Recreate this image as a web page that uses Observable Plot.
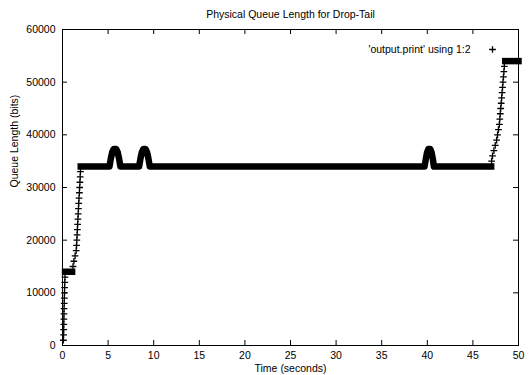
<!DOCTYPE html>
<html><head><meta charset="utf-8">
<script src="https://cdn.jsdelivr.net/npm/d3@7"></script>
<script src="https://cdn.jsdelivr.net/npm/@observablehq/plot@0.6"></script>
<style>body{margin:0;background:#fff}svg{display:block}</style>
</head><body><div id="chart"></div>
<script>
// ---- data ----
const titleText = "Physical Queue Length for Drop-Tail";
const xLabelText = "Time (seconds)";
const yLabelText = "Queue Length (bits)";
const legendText = "'output.print' using 1:2";
const xTicks = [0, 5, 10, 15, 20, 25, 30, 35, 40, 45, 50];
const yTicks = [0, 10000, 20000, 30000, 40000, 50000, 60000];

// sparse samples (individually visible crosses on the rising parts)
const riseTime = [
  0.10, 0.12, 0.13, 0.14, 0.15, 0.16, 0.17, 0.19, 0.20, 0.22, 0.23, 0.25, 0.27,
  1.15, 1.25, 1.38, 1.50, 1.54, 1.57, 1.60, 1.63, 1.66, 1.69, 1.72, 1.75, 1.78, 1.81, 1.85, 1.88, 1.91, 1.94, 1.97,
  47.05, 47.15, 47.30, 47.45, 47.60, 47.70, 47.80, 47.90, 47.95, 48.00, 48.05, 48.10, 48.15, 48.20, 48.25, 48.30, 48.35, 48.40, 48.45
];
const riseQueue = [
  1000, 2000, 3000, 4000, 5000, 6000, 7000, 8000, 9000, 10000, 11000, 12000, 13000,
  15000, 16000, 17000, 18000, 19000, 20000, 21000, 22000, 23000, 24000, 25000, 26000, 27000, 28000, 29000, 30000, 31000, 32000, 33000,
  35000, 36000, 37000, 38000, 39000, 40000, 41000, 42000, 43000, 44000, 45000, 46000, 47000, 48000, 49000, 50000, 51000, 52000, 53000
];

// dense runs (crosses so close they merge into a solid band)
const bandRun = [0, 0,
  1, 1, 1, 1, 1, 1, 1, 1, 1, 1,
  1, 1, 1, 1, 1, 1, 1, 1,
  1, 1, 1, 1, 1, 1, 1, 1,
  2, 2];
const bandTime = [0.28, 1.05,
  2.00, 5.15, 5.30, 5.45, 5.62, 5.88, 6.05, 6.20, 6.35, 8.40,
  8.55, 8.70, 8.87, 9.10, 9.27, 9.42, 9.57, 39.70,
  39.85, 39.98, 40.12, 40.32, 40.46, 40.60, 40.72, 47.00,
  48.55, 50.00];
const bandQueue = [14000, 14000,
  34000, 34000, 35500, 36700, 37300, 37300, 36700, 35500, 34000, 34000,
  35500, 36700, 37300, 37300, 36700, 35500, 34000, 34000,
  35500, 36700, 37300, 37300, 36700, 35500, 34000, 34000,
  54000, 54000];

const rise = riseTime.map((t, i) => ({t, q: riseQueue[i]}));
const band = bandTime.map((t, i) => ({t, q: bandQueue[i], run: bandRun[i]}));

const plot = Plot.plot({
  width: 531, height: 375,
  marginLeft: 62, marginRight: 13, marginTop: 29, marginBottom: 30,
  style: {fontFamily: "'Liberation Sans', Arial, sans-serif", fontSize: "10.5px", color: "#000", background: "#fff"},
  x: {domain: [0, 50], ticks: xTicks, tickSize: 0, tickPadding: 6, tickFormat: d => String(d), label: null},
  y: {domain: [0, 60000], ticks: yTicks, tickSize: 0, tickPadding: 7, tickFormat: d => String(d), label: null},
  marks: [
    Plot.line(band, {x: "t", y: "q", z: "run", stroke: "#000", strokeWidth: 6.5, strokeLinecap: "square", strokeLinejoin: "round"}),
    Plot.dot(rise, {x: "t", y: "q", symbol: "plus", r: 2.3, stroke: "#000", strokeWidth: 1.3}),
    Plot.tickX(xTicks, {x: d => d, insetTop: 311, stroke: "#000"}),
    Plot.tickX(xTicks, {x: d => d, insetBottom: 311, stroke: "#000"}),
    Plot.tickY(yTicks, {y: d => d, insetRight: 451, stroke: "#000"}),
    Plot.tickY(yTicks, {y: d => d, insetLeft: 451, stroke: "#000"}),
    Plot.frame({stroke: "#000"}),
    Plot.text([titleText], {text: d => d, frameAnchor: "top", lineAnchor: "middle", dy: -15, fill: "#000"}),
    Plot.text([xLabelText], {text: d => d, frameAnchor: "bottom", lineAnchor: "middle", dy: 23, fill: "#000"}),
    Plot.text([yLabelText], {text: d => d, frameAnchor: "left", dx: -48, rotate: -90, fill: "#000"}),
    Plot.text([legendText], {text: d => d, frameAnchor: "top-right", lineAnchor: "middle", dx: -48, dy: 20, textAnchor: "end", fill: "#000"}),
    Plot.dot([legendText], {frameAnchor: "top-right", dx: -26, dy: 20, symbol: "plus", r: 2.3, stroke: "#000", strokeWidth: 1.3})
  ]
});
document.getElementById("chart").appendChild(plot);
</script>
</body></html>
